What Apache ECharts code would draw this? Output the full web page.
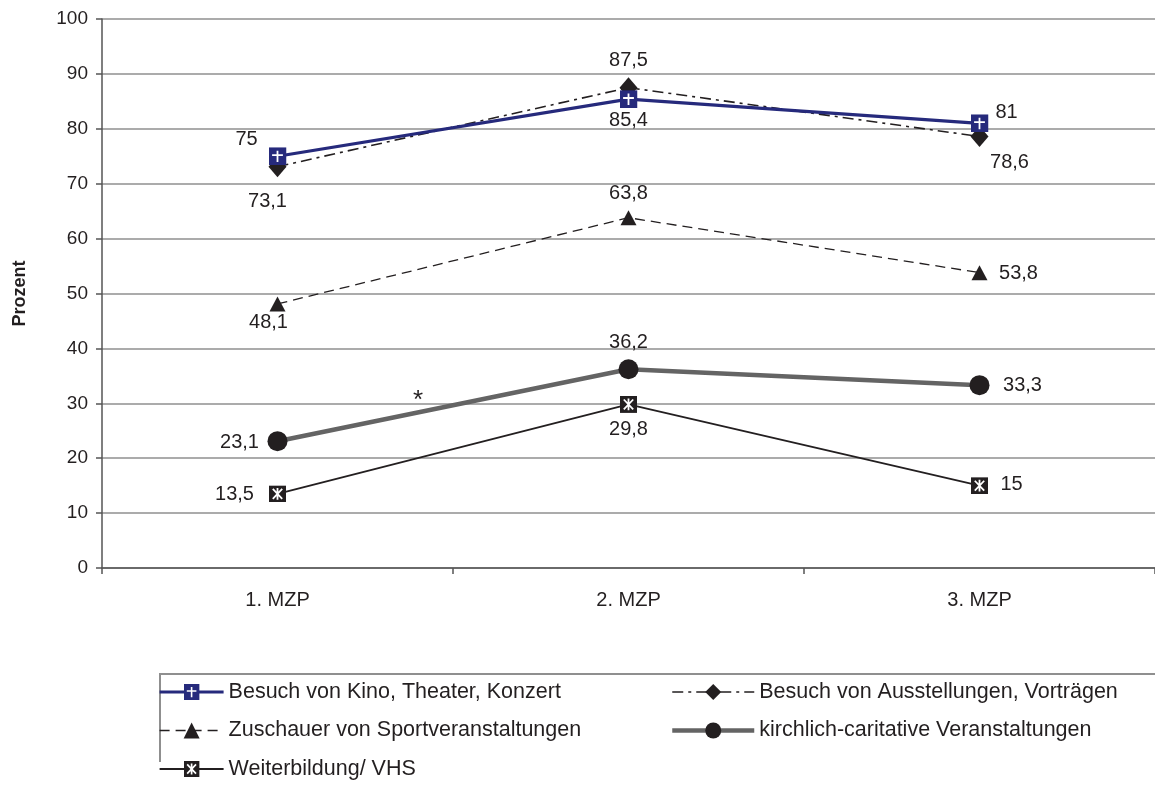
<!DOCTYPE html>
<html>
<head>
<meta charset="utf-8">
<script src="https://cdn.jsdelivr.net/npm/echarts@6/dist/echarts.min.js"></script>
<style>
  html, body { margin: 0; padding: 0; background: #fff; }
  #chart { width: 1155px; height: 790px; }
</style>
</head>
<body>
<div id="chart"></div>
<script>
// Measurement points (Messzeitpunkte)
var categories = ['1. MZP', '2. MZP', '3. MZP'];

// Share of respondents per activity, in percent
var kino = [75, 85.4, 81];
var ausstellungen = [73.1, 87.5, 78.6];
var sport = [48.1, 63.8, 53.8];
var kirchlich = [23.1, 36.2, 33.3];
var vhs = [13.5, 29.8, 15];

var seriesNames = [
  'Besuch von Kino, Theater, Konzert',
  'Besuch von Ausstellungen, Vorträgen',
  'Zuschauer von Sportveranstaltungen',
  'kirchlich-caritative Veranstaltungen',
  'Weiterbildung/ VHS'
];

var yTicks = { min: 0, max: 100, step: 10 };

// Label placement per point: [dx, dy] from the marker centre
var labelOffsets = {
  kino: [[-31, -17], [0, 21], [27, -11]],
  ausstellungen: [[-10, 35], [0, -27], [30, 26]],
  sport: [[-9, 19], [0, -24], [39, 1]],
  kirchlich: [[-38, 1], [0, -27], [43, 0]],
  vhs: [[-43, 1], [0, 25], [32, -1]]
};

var FONT = '"Liberation Sans", Arial, sans-serif';
var TEXT = '#231f20';

function svgSymbol(svg) {
  return 'image://data:image/svg+xml;charset=utf-8,' + encodeURIComponent(svg);
}

var plusSquare = svgSymbol(
  "<svg xmlns='http://www.w3.org/2000/svg' width='34' height='34' viewBox='0 0 17 17'>" +
  "<rect width='17' height='17' fill='#262a7c'/>" +
  "<path d='M8.5 3.2V14M3.4 7.4H13.6' stroke='#fff' stroke-width='1.7' fill='none'/></svg>");

var starSquare = svgSymbol(
  "<svg xmlns='http://www.w3.org/2000/svg' width='34' height='34' viewBox='0 0 17 17'>" +
  "<rect width='17' height='17' fill='#231f20'/>" +
  "<path d='M8.5 2.6V14.4M3.8 3.6L13.2 13.4M13.2 3.6L3.8 13.4' stroke='#fff' stroke-width='1.8' fill='none'/></svg>");

function withLabels(values, offsets) {
  return values.map(function (v, i) {
    return {
      value: v,
      label: { offset: offsets[i] }
    };
  });
}

var baseLabel = {
  show: true,
  position: 'inside',
  color: TEXT,
  fontFamily: FONT,
  fontSize: 20,
  formatter: function (p) { return String(p.value).replace('.', ','); }
};

var legendText = { color: TEXT, fontFamily: FONT, fontSize: 21.5, lineHeight: 20 };

var chart = echarts.init(document.getElementById('chart'), null, { renderer: 'canvas' });

chart.setOption({
  animation: false,
  backgroundColor: '#fff',
  grid: { left: 102, top: 19, width: 1055, height: 549, containLabel: false },
  xAxis: {
    type: 'category',
    data: categories,
    boundaryGap: true,
    axisLine: { lineStyle: { color: '#555', width: 1.5 } },
    axisTick: { show: true, length: 6, lineStyle: { color: '#555', width: 1.5 } },
    axisLabel: { color: TEXT, fontFamily: FONT, fontSize: 20, margin: 22 },
    splitLine: { show: false }
  },
  yAxis: {
    type: 'value',
    min: yTicks.min,
    max: yTicks.max,
    interval: yTicks.step,
    name: 'Prozent',
    nameLocation: 'middle',
    nameGap: 73,
    nameRotate: 90,
    nameTextStyle: { color: TEXT, fontFamily: FONT, fontSize: 18, fontWeight: 'bold' },
    axisLine: { show: true, lineStyle: { color: '#555', width: 1.5 } },
    axisTick: { show: true, length: 6, lineStyle: { color: '#555', width: 1.5 } },
    axisLabel: { color: TEXT, fontFamily: FONT, fontSize: 19, margin: 14 },
    splitLine: { show: true, lineStyle: { color: '#8f8f8f', width: 1.5 } }
  },
  legend: [
    {
      data: [seriesNames[0], seriesNames[2], seriesNames[4]],
      orient: 'vertical',
      left: 158,
      top: 681,
      padding: 0,
      itemWidth: 64,
      itemHeight: 20,
      itemGap: 16.5,
      lineStyle: { width: 'inherit' },
      textStyle: legendText
    },
    {
      data: [seriesNames[1], seriesNames[3]],
      orient: 'vertical',
      left: 670,
      top: 681,
      padding: 0,
      itemWidth: 82,
      itemHeight: 20,
      itemGap: 16.5,
      lineStyle: { width: 'inherit' },
      textStyle: legendText
    }
  ],
  graphic: [
    {
      type: 'polyline',
      shape: { points: [[1160, 674], [160, 674], [160, 762]] },
      style: { stroke: '#8f8f8f', lineWidth: 2, fill: null },
      silent: true
    },
    {
      type: 'text',
      left: 413,
      top: 388,
      style: { text: '*', fill: TEXT, font: '26px ' + FONT }
    }
  ],
  series: [
    {
      name: seriesNames[3],
      type: 'line',
      data: withLabels(kirchlich, labelOffsets.kirchlich),
      symbol: 'circle',
      symbolSize: 20,
      itemStyle: { color: '#231f20', borderWidth: 0 },
      lineStyle: { color: '#646464', width: 4.5 },
      label: baseLabel,
      z: 2
    },
    {
      name: seriesNames[4],
      type: 'line',
      data: withLabels(vhs, labelOffsets.vhs),
      symbol: starSquare,
      symbolSize: 17,
      itemStyle: { color: '#231f20', borderWidth: 0 },
      lineStyle: { color: '#231f20', width: 1.8 },
      label: baseLabel,
      z: 3
    },
    {
      name: seriesNames[2],
      type: 'line',
      data: withLabels(sport, labelOffsets.sport),
      symbol: 'triangle',
      symbolSize: [16, 15],
      itemStyle: { color: '#231f20', borderWidth: 0 },
      lineStyle: { color: '#231f20', width: 1.3, type: [10, 6] },
      label: baseLabel,
      z: 3
    },
    {
      name: seriesNames[1],
      type: 'line',
      data: withLabels(ausstellungen, labelOffsets.ausstellungen),
      symbol: 'diamond',
      symbolSize: [18, 21],
      itemStyle: { color: '#231f20', borderWidth: 0 },
      lineStyle: { color: '#231f20', width: 1.6, type: [11, 5, 3, 5] },
      label: baseLabel,
      z: 3
    },
    {
      name: seriesNames[0],
      type: 'line',
      data: withLabels(kino, labelOffsets.kino),
      symbol: plusSquare,
      symbolSize: 18,
      itemStyle: { color: '#262a7c', borderWidth: 0 },
      lineStyle: { color: '#262a7c', width: 3.2 },
      label: baseLabel,
      z: 4
    }
  ]
});
</script>
</body>
</html>
